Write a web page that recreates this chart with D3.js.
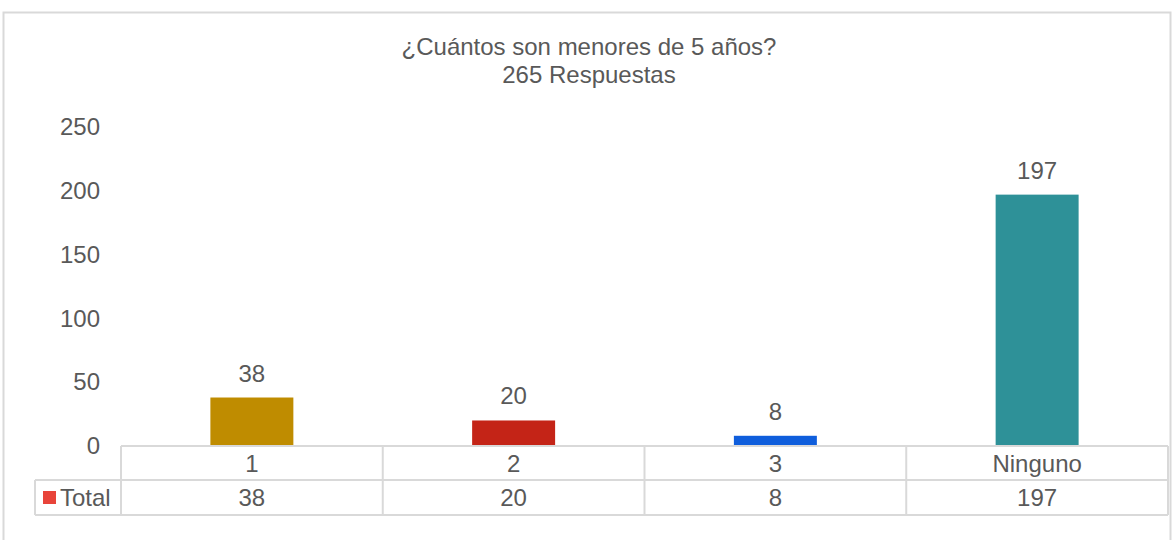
<!DOCTYPE html>
<html>
<head>
<meta charset="utf-8">
<title>¿Cuántos son menores de 5 años?</title>
<script src="https://cdn.jsdelivr.net/npm/d3@7"></script>
<style>
  html, body { margin: 0; padding: 0; background: #fff; }
  svg { display: block; font-family: "Liberation Sans", Arial, sans-serif; }
</style>
</head>
<body>
<div id="chart"></div>
<script>
// data
var categories = ["1", "2", "3", "Ninguno"];
var values = [38, 20, 8, 197];
var barColors = ["#BF8C00", "#C42417", "#0F5EDC", "#2E9198"];
var yTicks = [0, 50, 100, 150, 200, 250];
var titleLines = ["¿Cuántos son menores de 5 años?", "265 Respuestas"];
var seriesName = "Total";

var width = 1173, height = 540;
var textColor = "#595959", lineColor = "#d9d9d9";
var fontSize = 24;

var svg = d3.select("#chart")
  .append("svg")
  .attr("width", width)
  .attr("height", height);

// outer chart border
svg.append("rect")
  .attr("x", 3.5).attr("y", 12.5)
  .attr("width", 1167).attr("height", 540)
  .attr("fill", "#fff")
  .attr("stroke", lineColor)
  .attr("stroke-width", 2);

// title
svg.append("text")
  .attr("x", 589).attr("y", 55)
  .attr("text-anchor", "middle")
  .attr("fill", textColor)
  .style("font-size", fontSize + "px")
  .selectAll("tspan")
  .data(titleLines)
  .join("tspan")
    .attr("x", 589)
    .attr("dy", (d, i) => i ? 28 : 0)
    .text(d => d);

var x = d3.scaleBand()
  .domain(categories)
  .range([121, 1168])
  .paddingInner(0)
  .paddingOuter(0);

var y = d3.scaleLinear()
  .domain([0, 250])
  .range([446, 127]);

var barW = x.bandwidth() * 0.317;

// y axis labels (no line, no ticks)
var yAxis = d3.axisLeft(y)
  .tickValues(yTicks)
  .tickSize(0)
  .tickPadding(0);

var gy = svg.append("g")
  .attr("transform", "translate(100,0)")
  .call(yAxis);
gy.select(".domain").remove();
gy.selectAll("text")
  .attr("fill", textColor)
  .attr("font-family", null)
  .style("font-size", fontSize + "px");

// bars
svg.append("g")
  .selectAll("rect")
  .data(values)
  .join("rect")
    .attr("x", (d, i) => x(categories[i]) + x.bandwidth() / 2 - barW / 2)
    .attr("y", d => y(d))
    .attr("width", barW)
    .attr("height", d => y(0) - y(d))
    .attr("fill", (d, i) => barColors[i]);

// data labels
svg.append("g")
  .selectAll("text")
  .data(values)
  .join("text")
    .attr("x", (d, i) => x(categories[i]) + x.bandwidth() / 2)
    .attr("y", d => y(d) - 16)
    .attr("text-anchor", "middle")
    .attr("fill", textColor)
    .style("font-size", fontSize + "px")
    .text(d => d);

// data table
var row1Top = 446, row2Top = 480, rowBottom = 515, legendLeft = 35;
var table = svg.append("g")
  .attr("stroke", lineColor)
  .attr("stroke-width", 2)
  .attr("fill", "none");

table.append("line")
  .attr("x1", 121).attr("x2", 1168)
  .attr("y1", row1Top).attr("y2", row1Top);
table.append("line")
  .attr("x1", legendLeft).attr("x2", 1168)
  .attr("y1", row2Top).attr("y2", row2Top);
table.append("line")
  .attr("x1", legendLeft).attr("x2", 1168)
  .attr("y1", rowBottom).attr("y2", rowBottom);
table.append("line")
  .attr("x1", legendLeft).attr("x2", legendLeft)
  .attr("y1", row2Top).attr("y2", rowBottom);

var edges = categories.map(c => x(c)).concat([x.range()[1]]);
table.selectAll("line.v")
  .data(edges)
  .join("line")
    .attr("class", "v")
    .attr("x1", d => d).attr("x2", d => d)
    .attr("y1", row1Top).attr("y2", rowBottom);

// category labels row
svg.append("g")
  .selectAll("text")
  .data(categories)
  .join("text")
    .attr("x", d => x(d) + x.bandwidth() / 2)
    .attr("y", (row1Top + row2Top) / 2 + 8.5)
    .attr("text-anchor", "middle")
    .attr("fill", textColor)
    .style("font-size", fontSize + "px")
    .text(d => d);

// values row
svg.append("g")
  .selectAll("text")
  .data(values)
  .join("text")
    .attr("x", (d, i) => x(categories[i]) + x.bandwidth() / 2)
    .attr("y", (row2Top + rowBottom) / 2 + 8.5)
    .attr("text-anchor", "middle")
    .attr("fill", textColor)
    .style("font-size", fontSize + "px")
    .text(d => d);

// legend key + series name
svg.append("rect")
  .attr("x", 43).attr("y", 491)
  .attr("width", 13).attr("height", 13)
  .attr("fill", "#E8443A");
svg.append("text")
  .attr("x", 60)
  .attr("y", (row2Top + rowBottom) / 2 + 8.5)
  .attr("fill", textColor)
  .style("font-size", fontSize + "px")
  .text(seriesName);
</script>
</body>
</html>
